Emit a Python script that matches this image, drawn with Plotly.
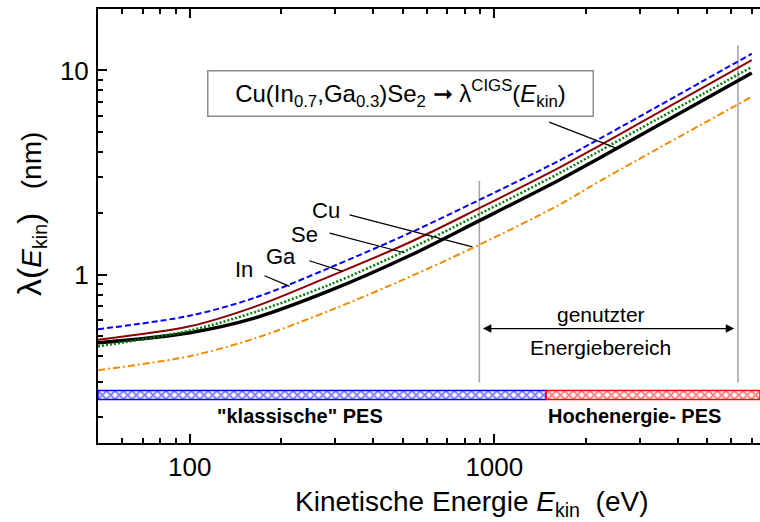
import numpy as np
import plotly.graph_objects as go

# Kinetic energy (eV) and inelastic mean free paths (nm)
energy = [50, 100, 163, 288, 526, 893, 1634, 2208, 7000]
lam_In = [0.541, 0.630, 0.770, 1.082, 1.598, 2.325, 3.620, 4.620, 12.08]
lam_Ga = [0.481, 0.559, 0.696, 0.981, 1.438, 2.118, 3.344, 4.280, 11.23]
lam_Se = [0.446, 0.533, 0.655, 0.894, 1.335, 1.980, 3.140, 4.020, 10.41]
lam_CIGS = [0.464, 0.520, 0.613, 0.835, 1.238, 1.840, 2.911, 3.720, 9.73]
lam_Cu = [0.341, 0.399, 0.487, 0.667, 0.975, 1.402, 2.200, 2.860, 7.44]

# Energy ranges of the PES techniques (eV)
regime_names = ['"klassische" PES', 'Hochenergie- PES']
regime_start = [50, 1480]
regime_end = [1480, 7450]
regime_colors = ["#0000FF", "#FF0000"]
regime_band = [0.245, 0.271]

# Energy window used in the work (eV)
window = [893, 6310]

x_ticks = [100, 1000]
x_minor = [60, 70, 80, 90, 200, 300, 400, 500, 600, 700, 800, 900,
           2000, 3000, 4000, 5000, 6000, 7000]
y_ticks = [1, 10]
y_minor = [0.2, 0.3, 0.4, 0.5, 0.6, 0.7, 0.8, 0.9, 2, 3, 4, 5, 6, 7, 8, 9]

FONT = "Arial, Liberation Sans, sans-serif"
L = np.log10

fig = go.Figure()

# hatched bars marking the PES regimes
for name, e0, e1, col in zip(regime_names, regime_start, regime_end, regime_colors):
    fig.add_trace(go.Scatter(
        x=[e0, e1, e1, e0, e0],
        y=[regime_band[0], regime_band[0], regime_band[1], regime_band[1], regime_band[0]],
        mode="lines", fill="toself", fillcolor="white",
        fillpattern=dict(shape="x", fgcolor=col, bgcolor="white", size=6, solidity=0.55),
        line=dict(color=col, width=1.5), showlegend=False, hoverinfo="skip"))

# vertical lines bounding the used energy window
fig.add_trace(go.Scatter(x=[window[0], window[0]], y=[0.297, 2.88], mode="lines",
                         line=dict(color="#A6A6A6", width=1.6), showlegend=False))
fig.add_trace(go.Scatter(x=[window[1], window[1]], y=[0.297, 13.3], mode="lines",
                         line=dict(color="#A6A6A6", width=1.6), showlegend=False))

curves = [
    ("Cu", lam_Cu, dict(color="#F08C00", width=2, dash="7px,3px,2px,3px")),
    ("CIGS", lam_CIGS, dict(color="black", width=3.5)),
    ("Se", lam_Se, dict(color="#008000", width=2.5, dash="2px,2px")),
    ("Ga", lam_Ga, dict(color="#8B0000", width=2)),
    ("In", lam_In, dict(color="#0000FF", width=2, dash="6px,3px")),
]
for name, lam, style in curves:
    fig.add_trace(go.Scatter(x=energy, y=lam, mode="lines", name=name,
                             line=dict(shape="spline", smoothing=0.9, **style),
                             showlegend=False))

# leader lines from the labels to the curves
leaders = {
    "Cu": ([335, 847], [1.964, 1.370]),
    "Se": ([288, 507], [1.598, 1.281]),
    "Ga": ([247, 318], [1.170, 1.038]),
    "In": ([176, 213], [0.989, 0.877]),
    "box": ([1514, 2512], [5.59, 4.17]),
}
for key, (xs, ys) in leaders.items():
    fig.add_trace(go.Scatter(x=xs, y=ys, mode="lines",
                             line=dict(color="black", width=1.2), showlegend=False))


def text_at(x, y, text, size, ref="data", **kw):
    d = dict(text=text, showarrow=False, xanchor="center", yanchor="middle",
             font=dict(size=size, family=FONT, color="black"))
    if ref == "data":
        d.update(x=L(x), y=L(y), xref="x", yref="y")
    else:
        d.update(x=x, y=y, xref="paper", yref="paper")
    d.update(kw)
    return d


annotations = []
labels = {"Cu": (281, 2.054), "Se": (238, 1.568), "Ga": (199, 1.224), "In": (151, 1.058)}
for text, (e, lam) in labels.items():
    annotations.append(text_at(e, lam, text, 22))

annotations.append(text_at(231, 0.2024, "<b>" + regime_names[0] + "</b>", 20))
annotations.append(text_at(2878, 0.2024, "<b>" + regime_names[1] + "</b>", 20))

# double arrow for the used energy range
annotations.append(dict(x=L(6130), y=L(0.545), ax=L(907), ay=L(0.545), xref="x", yref="y",
                        axref="x", ayref="y", text="", showarrow=True, arrowhead=2,
                        startarrowhead=2, arrowside="end+start", arrowwidth=1.3,
                        arrowsize=1.3, startarrowsize=1.3, arrowcolor="black",
                        standoff=0, startstandoff=0))
annotations.append(text_at(2235, 0.6377, "genutzter", 21))
annotations.append(text_at(2235, 0.4397, "Energiebereich", 21))

# compound box
annotations.append(text_at(
    (400 - 98) / 662, (443 - 93) / 434,
    "Cu(In<sub>0.7</sub>,Ga<sub>0.3</sub>)Se<sub>2</sub> \u279e \u03bb<sup>CIGS</sup>(<i>E</i><sub>kin</sub>)",
    24, ref="paper", bgcolor="white", bordercolor="#8C8C8C", borderwidth=1.5,
    borderpad=2, width=380, height=40))

# axis titles
annotations.append(text_at((471 - 98) / 662, (443 - 503) / 434,
                           "Kinetische Energie <i>E</i><sub>kin</sub>  (eV)", 28, ref="paper"))
annotations.append(text_at(
    (30 - 98) / 662, (443 - 214) / 434,
    "<span style='font-size:34px'>\u03bb(</span><i>E</i><sub>kin</sub>"
    "<span style='font-size:34px'>)</span>   (nm)",
    28, ref="paper", textangle=-90))

axis_common = dict(showline=True, linecolor="black", linewidth=2, ticks="inside",
                   ticklen=9, tickwidth=1.5, tickcolor="black", showgrid=False,
                   zeroline=False, tickfont=dict(size=26, family=FONT, color="black"))

fig.update_layout(
    width=760, height=522,
    margin=dict(l=98, r=0, t=9, b=79),
    paper_bgcolor="white", plot_bgcolor="white",
    annotations=annotations,
    xaxis=dict(type="log", range=[L(50), L(7450)], tickmode="array", tickvals=x_ticks,
               ticktext=[str(v) for v in x_ticks], mirror="ticks", ticklabelstandoff=0,
               minor=dict(tickmode="array", tickvals=x_minor, ticks="inside", ticklen=5,
                          tickwidth=1.5, tickcolor="black"),
               **axis_common),
    yaxis=dict(type="log", range=[L(0.15), L(20)], tickmode="array", tickvals=y_ticks,
               ticktext=[str(v) for v in y_ticks], mirror=False, ticklabelstandoff=2,
               minor=dict(tickmode="array", tickvals=y_minor, ticks="inside", ticklen=5,
                          tickwidth=1.5, tickcolor="black"),
               **axis_common),
)

fig.write_html("out.html")
